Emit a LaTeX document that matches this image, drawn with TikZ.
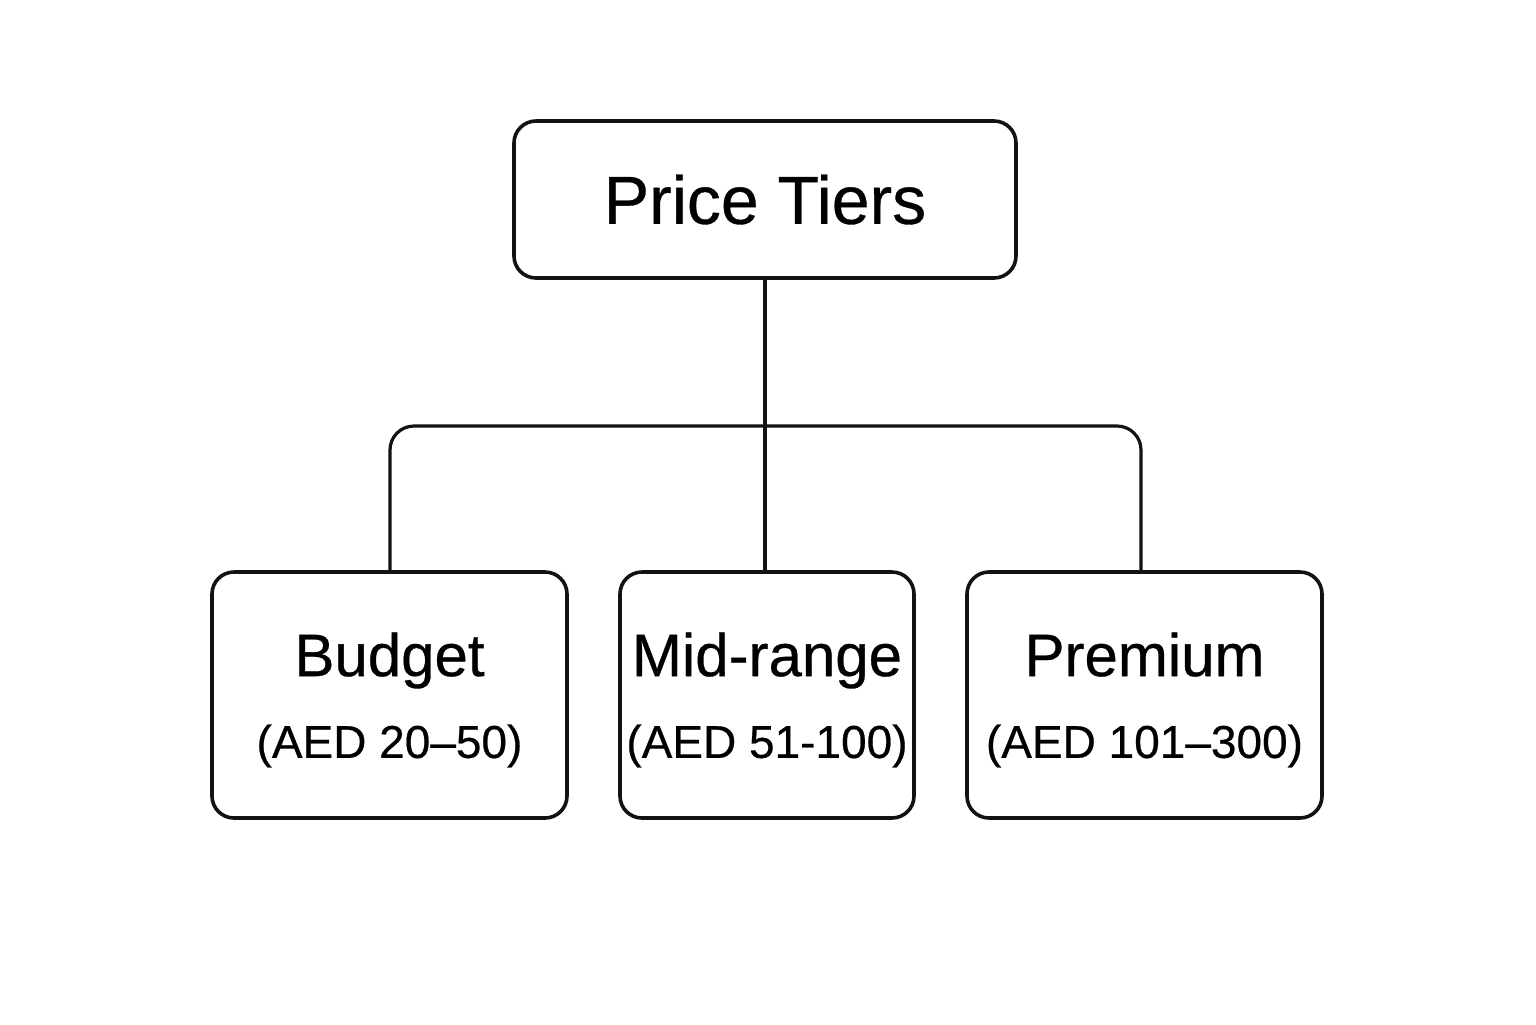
\documentclass[tikz,border=0pt]{standalone}
\usepackage{fontspec}
\setmainfont{Liberation Sans}[FakeBold=0.5]
\usetikzlibrary{positioning}

\tikzset{
  box/.style={draw=black!93, line width=1.8pt, rounded corners=11pt, align=center},
  tier/.style={box, minimum width=177.5pt, minimum height=123pt, inner sep=0pt},
  tiertext/.style={align=center, inner sep=0pt},
  link/.style={draw=black!93, line width=1.6pt}
}
\newcommand{\tiername}[1]{{\fontsize{30}{36}\selectfont #1\vphantom{dg}}}
\newcommand{\tierrange}[1]{{\fontsize{23}{28}\selectfont #1}}

\begin{document}
\begin{tikzpicture}[x=0.5pt, y=-0.5pt]
  \useasboundingbox[fill=white] (0,0) rectangle (1536,1024);
  % Root box
  \node[box, minimum width=251pt, minimum height=78.5pt] (tiers) at (765,199.5)
    {\fontsize{34}{40}\selectfont Price Tiers};
  % Tier boxes
  \node[tier] (budget) at (389.5,695) {};
  \node[tier, minimum width=147pt] (midrange) at (767,695) {};
  \node[tier] (premium) at (1144.5,695) {};
  % Tier labels
  \node[tiertext] (budgettext) at ([yshift=-2.5pt]budget.center)
    {\tiername{Budget}\\[17pt]\tierrange{(AED 20–50)}};
  \node[tiertext] (midrangetext) at ([yshift=-2.5pt]midrange.center)
    {\tiername{Mid-range}\\[17pt]\tierrange{(AED 51-100)}};
  \node[tiertext] (premiumtext) at ([yshift=-2.5pt]premium.center)
    {\tiername{Premium}\\[17pt]\tierrange{(AED 101–300)}};
  % Connectors
  \coordinate (hub) at (766,426);
  \draw[link] (tiers.south) -- (tiers.south |- midrange.north);
  \draw[link, rounded corners=12pt] ([xshift=0.25pt]budget.north) |- (hub)
    -| ([xshift=-1.75pt]premium.north);
\end{tikzpicture}
\end{document}
